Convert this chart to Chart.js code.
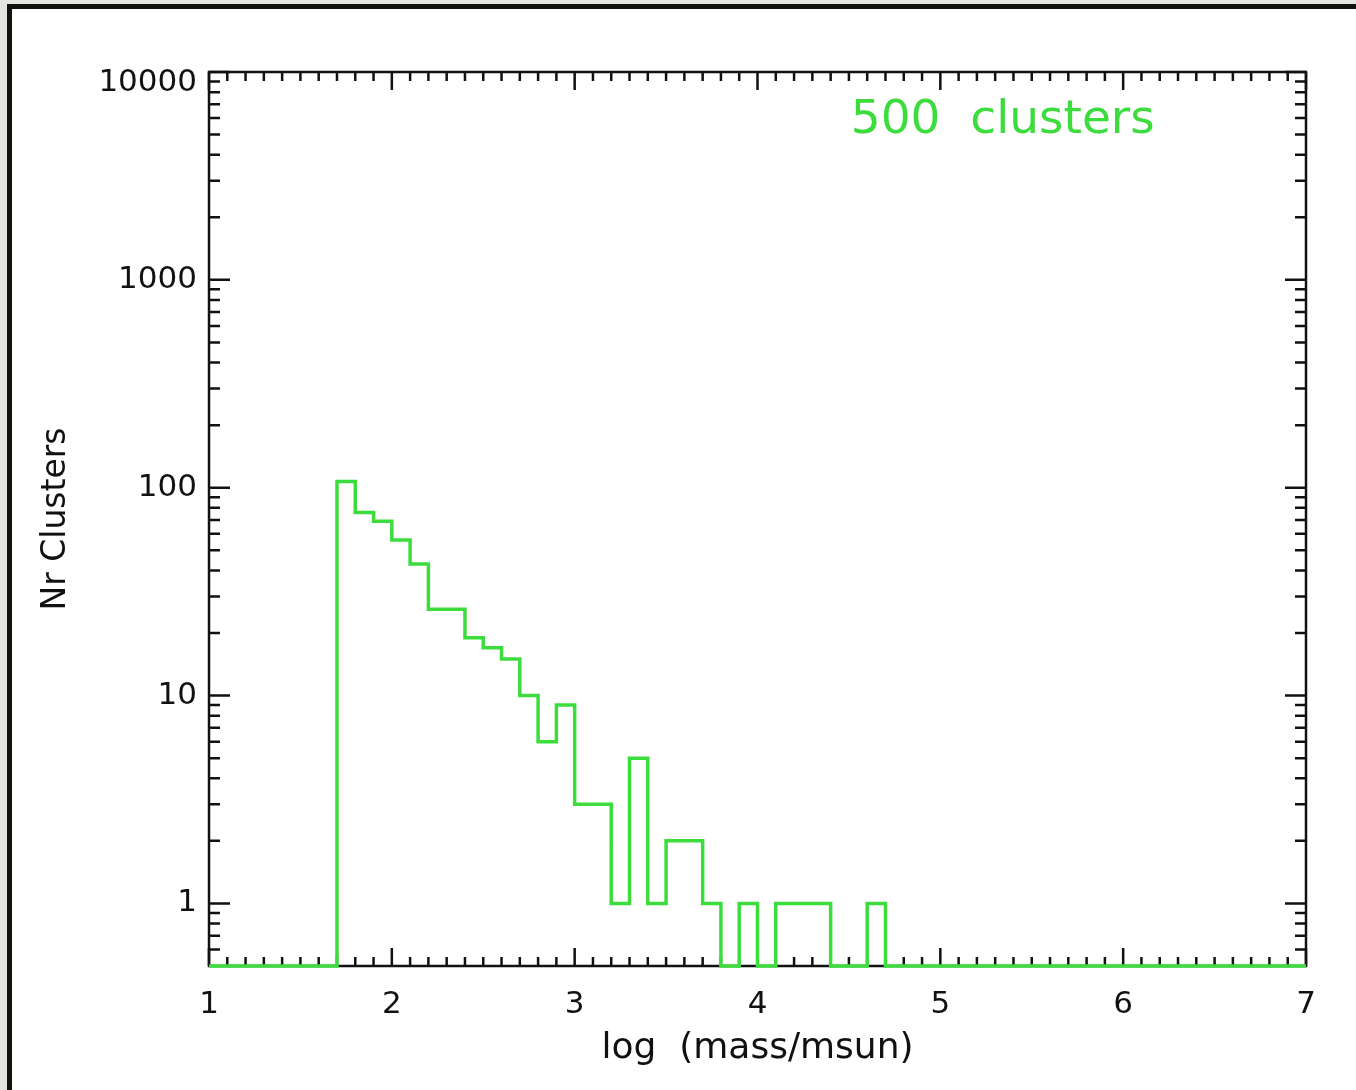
<!DOCTYPE html>
<html>
<head>
<meta charset="utf-8">
<script src="https://cdn.jsdelivr.net/npm/chart.js@4/dist/chart.umd.min.js"></script>
<style>
    html, body { margin: 0; padding: 0; }
    body { width: 1356px; height: 1090px; background: #e6e4e0; overflow: hidden; position: relative; }
    #panel { position: absolute; left: 7px; top: 4px; width: 1400px; height: 1200px; background: #fff; border: 5px solid #111; }
    #wrap { position: absolute; left: 0; top: 0; width: 1356px; height: 1090px; }
</style>
</head>
<body>
<div id="panel"></div>
<div id="wrap"><canvas id="histChart" width="1356" height="1090"></canvas></div>
<script>
// histogram of log(mass/msun), bins of 0.1 from 1.0 to 7.0
const binStart = 1.0;
const binWidth = 0.1;
const counts = [
    0, 0, 0, 0, 0, 0, 0, 107, 76, 69,     // 1.0 - 1.9
    56, 43, 26, 26, 19, 17, 15, 10, 6, 9, // 2.0 - 2.9
    3, 3, 1, 5, 1, 2, 2, 1, 0, 1,         // 3.0 - 3.9
    0, 1, 1, 1, 0, 0, 1, 0, 0, 0,         // 4.0 - 4.9
    0, 0, 0, 0, 0, 0, 0, 0, 0, 0,         // 5.0 - 5.9
    0, 0, 0, 0, 0, 0, 0, 0, 0, 0          // 6.0 - 6.9
];
const yTickLabels = [1, 10, 100, 1000, 10000];
const xMin = 1, xMax = 7;
const yMin = 0.5, yMax = 10000;
const annotationText = '500  clusters';

const green = '#3ddc3d';
const ink = '#111111';
const fontFamily = '"DejaVu Sans", sans-serif';

// empty bins sit on the bottom of the plot like in the IDL plot
const points = counts.map((c, i) => ({
    x: +(binStart + i * binWidth).toFixed(1),
    y: c > 0 ? c : yMin
}));
points.push({ x: xMax, y: counts[counts.length - 1] > 0 ? counts[counts.length - 1] : yMin });

const frameAndTicks = {
    id: 'frameAndTicks',
    beforeDatasetsDraw(chart) {
        const ctx = chart.ctx;
        const area = chart.chartArea;
        const xs = chart.scales.x;
        const ys = chart.scales.y;
        ctx.save();
        ctx.strokeStyle = ink;
        ctx.lineWidth = 2.5;
        ctx.lineCap = 'butt';
        ctx.strokeRect(area.left, area.top, area.right - area.left, area.bottom - area.top);

        ctx.beginPath();
        // x ticks every 0.1, bigger ones on whole numbers
        for (let i = xMin * 10; i <= xMax * 10; i++) {
            const v = i / 10;
            const px = xs.getPixelForValue(v);
            const len = (i % 10 === 0) ? 18 : 9;
            ctx.moveTo(px, area.bottom);
            ctx.lineTo(px, area.bottom - len);
            ctx.moveTo(px, area.top);
            ctx.lineTo(px, area.top + len);
        }
        // y ticks, 1..9 per decade
        for (let k = -1; k <= 4; k++) {
            for (let m = 1; m <= 9; m++) {
                const v = m * Math.pow(10, k);
                if (v <= yMin || v > yMax) continue;
                const py = ys.getPixelForValue(v);
                const len = (m === 1) ? 21 : 11;
                ctx.moveTo(area.left, py);
                ctx.lineTo(area.left + len, py);
                ctx.moveTo(area.right, py);
                ctx.lineTo(area.right - len, py);
            }
        }
        ctx.stroke();
        ctx.restore();
    },
    afterDraw(chart) {
        const ctx = chart.ctx;
        const xs = chart.scales.x;
        const ys = chart.scales.y;
        ctx.save();
        ctx.fillStyle = green;
        ctx.font = '47px ' + fontFamily;
        ctx.textBaseline = 'middle';
        ctx.textAlign = 'left';
        ctx.fillText(annotationText, xs.getPixelForValue(4.51), ys.getPixelForValue(5800));
        ctx.restore();
    }
};

const ctx = document.getElementById('histChart').getContext('2d');
const histChart = new Chart(ctx, {
    type: 'line',
    data: {
        datasets: [{
            data: points,
            stepped: 'before',
            borderColor: green,
            borderWidth: 3.5,
            pointRadius: 0,
            fill: false,
            clip: 6
        }]
    },
    options: {
        responsive: false,
        animation: false,
        events: [],
        layout: { padding: { top: 72, right: 50, left: 0, bottom: 0 } },
        plugins: {
            legend: { display: false },
            tooltip: { enabled: false }
        },
        scales: {
            x: {
                type: 'linear',
                min: xMin,
                max: xMax,
                grid: { display: false, drawTicks: false },
                border: { display: false },
                ticks: {
                    stepSize: 1,
                    padding: 20,
                    color: ink,
                    font: { family: fontFamily, size: 31 },
                    maxRotation: 0,
                    callback: v => String(v)
                },
                title: {
                    display: true,
                    text: 'log  (mass/msun)',
                    color: ink,
                    font: { family: fontFamily, size: 36 },
                    padding: { top: 0, bottom: 20 }
                },
                afterFit: scale => { scale.height = 124; }
            },
            y: {
                type: 'logarithmic',
                min: yMin,
                max: yMax,
                grid: { display: false, drawTicks: false },
                border: { display: false },
                afterBuildTicks: scale => {
                    scale.ticks = yTickLabels.map(v => ({ value: v }));
                },
                ticks: {
                    padding: 12,
                    color: ink,
                    font: { family: fontFamily, size: 31, lineHeight: 0.72 },
                    // the top label hangs below its tick, as in the original
                    callback: v => (v === yMax ? ['', String(v)] : String(v))
                },
                title: {
                    display: true,
                    text: 'Nr Clusters',
                    color: ink,
                    font: { family: fontFamily, size: 33 },
                    padding: { top: 37, bottom: 0 }
                },
                afterFit: scale => { scale.width = 209; }
            }
        }
    },
    plugins: [frameAndTicks]
});
</script>
</body>
</html>
